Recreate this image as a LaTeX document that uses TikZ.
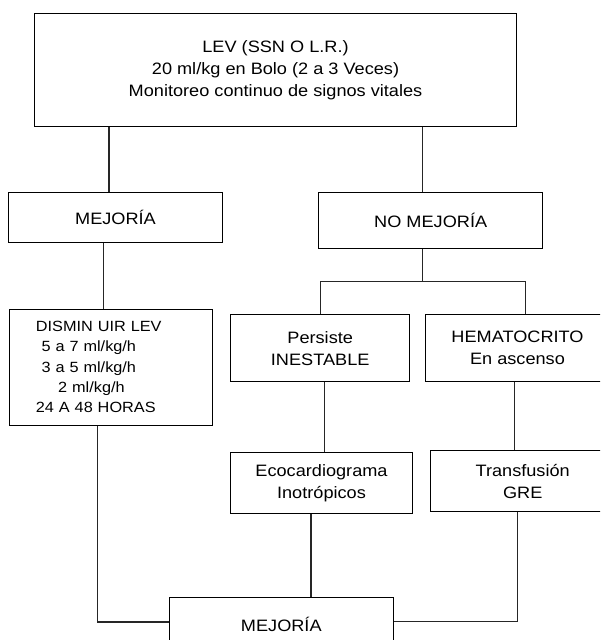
\documentclass[tikz,border=0pt]{standalone}
\usepackage{fontspec}
\setmainfont{Liberation Sans}[FakeStretch=1.1]
\usepackage{tikz}
\usetikzlibrary{positioning}

\begin{document}
\begin{tikzpicture}[x=1pt, y=1pt,
	caja/.style={draw, rectangle, line width=1pt, align=center, inner sep=0pt, font=\fontsize{16.5}{22}\selectfont},
	linea/.style={line width=1.2pt, black!85}]
	\clip (0,0) rectangle (600,-640);
	
	% Cajas
	\node[caja, minimum width=482.2pt, minimum height=113.4pt] (lev) at (275.5,-70) {LEV (SSN O L.R.)\\20 ml/kg en Bolo (2 a 3 Veces)\\Monitoreo continuo de signos vitales};
	\node[caja, minimum width=214.3pt, minimum height=49.7pt] (mejora) at (115.5,-217.2) {MEJORÍA};
	\node[caja, minimum width=223.9pt, minimum height=55.6pt] (nomejora) at (430.7,-220.5) {NO MEJORÍA};
	\node[caja, minimum width=202.6pt, minimum height=116pt, inner xsep=26pt, text width=150.6pt, align=left, font=\fontsize{14.8}{20.2}\selectfont] (disminuir) at (111.2,-367) {DISMIN UIR LEV\\\hspace*{5.7pt}5 a 7 ml/kg/h\\\hspace*{5.7pt}3 a 5 ml/kg/h\\\hspace*{22.3pt}2 ml/kg/h\\24 A 48 HORAS};
	\node[caja, minimum width=178.7pt, minimum height=66.7pt] (persiste) at (320.2,-348.3) {Persiste\\INESTABLE};
	\node[caja, minimum width=185pt, minimum height=66.7pt] (hemato) at (517.5,-348.3) {HEMATOCRITO\\En ascenso};
	\node[caja, minimum width=184pt, minimum height=61pt] (transf) at (522.7,-481.2) {Transfusión\\GRE};
	\node[caja, minimum width=181.4pt, minimum height=61pt] (eco) at (321.5,-482.8) {Ecocardiograma\\Inotrópicos};
	\node[caja, minimum width=224pt, minimum height=54pt] (mejfinal) at (281.3,-624) {MEJORÍA};
	
	% Conexiones
	\draw[linea] ([xshift=-6.5pt]mejora.north) -- ([xshift=-6.5pt]mejora.north |- lev.south);
	\draw[linea] ([xshift=-8.2pt]nomejora.north) -- ([xshift=-8.2pt]nomejora.north |- lev.south);
	\draw[linea] ([xshift=-7.5pt]disminuir.north) -- ([xshift=-7.5pt]disminuir.north |- mejora.south);
	
	\draw[linea] ([xshift=-8.2pt]nomejora.south) -- ++(0,-32.4) coordinate (rama);
	\draw[linea] (persiste.north) |- (rama) -| ([xshift=7.9pt]hemato.north);
	
	\draw[linea] ([xshift=3.9pt]persiste.south) -- ([xshift=3.9pt]persiste.south |- eco.north);
	\draw[linea] ([xshift=-3.2pt]hemato.south) -- ([xshift=-3.2pt]hemato.south |- transf.north);
	
	\draw[linea] ([xshift=-10.5pt]eco.south) -- ([xshift=-10.5pt]eco.south |- mejfinal.north);
	\draw[linea] ([xshift=-13.5pt]disminuir.south) |- ([yshift=2pt]mejfinal.west);
	\draw[linea] ([xshift=-4.9pt]transf.south) |- ([yshift=2.3pt]mejfinal.east);
\end{tikzpicture}
\end{document}
